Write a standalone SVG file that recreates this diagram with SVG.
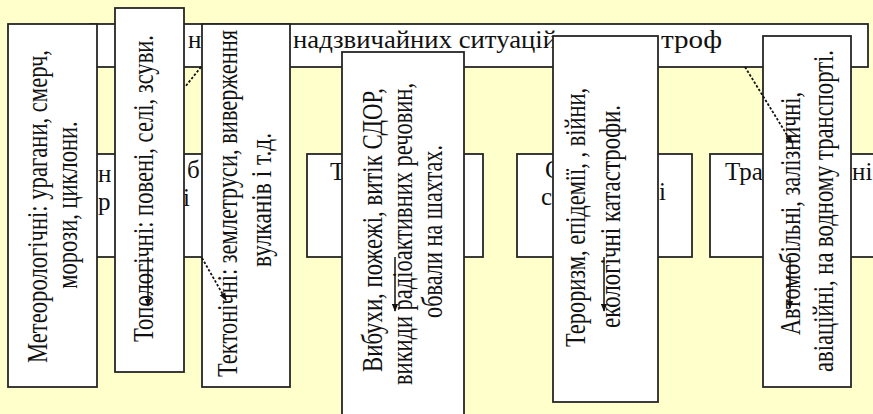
<svg xmlns="http://www.w3.org/2000/svg" width="873" height="414" viewBox="0 0 873 414">
<defs>
<style>
.bx{fill:#fff;stroke:#262626;stroke-width:1.8}
.t{font-family:"Liberation Serif","Times New Roman",serif;font-size:25px;fill:#111}
.v{font-family:"Liberation Serif","Times New Roman",serif;font-size:22.5px;fill:#111;text-anchor:middle}
.c{stroke:#111;stroke-width:1.5;fill:none}
.d{stroke:#111;stroke-width:1.8;fill:none;stroke-dasharray:2.5 1.8}
</style>
<marker id="ah" viewBox="0 0 10 8" refX="9" refY="4" markerWidth="8" markerHeight="7" markerUnits="userSpaceOnUse" orient="auto">
<path d="M0,0 L10,4 L0,8 z" fill="#111"/>
</marker>
</defs>
<rect width="873" height="414" fill="#FFFFCC"/>

<g id="title">
<rect class="bx" x="90" y="24" width="778" height="43"/>
<text class="t" x="188" y="48">н</text>
<text class="t" x="293" y="48" textLength="264" lengthAdjust="spacingAndGlyphs">надзвичайних ситуацій</text>
<text class="t" x="661" y="48" textLength="61" lengthAdjust="spacingAndGlyphs">троф</text>
</g>

<g id="natural">
<rect class="bx" x="60" y="154" width="190" height="103"/>
<text class="t" x="98" y="182">н</text>
<text class="t" x="98" y="210">р</text>
<text class="t" x="187" y="178">б</text>
<text class="t" x="183" y="206">і</text>
</g>
<g id="technogenic">
<rect class="bx" x="307" y="154" width="176" height="103"/>
<text class="t" x="330" y="180">Т</text>
</g>
<g id="social">
<rect class="bx" x="517" y="154" width="175" height="103"/>
<text class="t" x="545" y="178">С</text>
<text class="t" x="541" y="205">с</text>
<text class="t" x="659" y="200">і</text>
</g>
<g id="transport">
<rect class="bx" x="710" y="154" width="166" height="103"/>
<text class="t" x="725" y="180" textLength="38" lengthAdjust="spacingAndGlyphs">Тра</text>
<text class="t" x="852" y="180">ні</text>
</g>

<g id="meteo">
<rect class="bx" x="8" y="24" width="89" height="363"/>
<text class="v" transform="translate(47,206.5) rotate(-90) scale(1,1.35)" textLength="313" lengthAdjust="spacingAndGlyphs">Метеорологічні: урагани, смерч,</text>
<text class="v" transform="translate(77,205) rotate(-90) scale(1,1.35)">морози, циклони.</text>
</g>
<g id="topo">
<rect class="bx" x="115" y="8" width="69" height="364"/>
<text class="v" transform="translate(153,188.5) rotate(-90) scale(1,1.35)" textLength="307" lengthAdjust="spacingAndGlyphs">Топологічні: повені, селі, зсуви.</text>
</g>
<g id="tecton">
<rect class="bx" x="202" y="24" width="88" height="363"/>
<text class="v" transform="translate(237,203.5) rotate(-90) scale(1,1.35)" textLength="347" lengthAdjust="spacingAndGlyphs">Тектонічні: землетруси, виверження</text>
<text class="v" transform="translate(271,200) rotate(-90) scale(1,1.35)" textLength="134" lengthAdjust="spacingAndGlyphs">вулканів і т.д.</text>
</g>
<g id="explosions">
<rect class="bx" x="342" y="52" width="122" height="370"/>
<text class="v" transform="translate(382,230) rotate(-90) scale(1,1.35)" textLength="284" lengthAdjust="spacingAndGlyphs">Вибухи, пожежі, витік СДОР,</text>
<text class="v" transform="translate(412,234) rotate(-90) scale(1,1.35)" textLength="302" lengthAdjust="spacingAndGlyphs">викиди радіоактивних речовин,</text>
<text class="v" transform="translate(442,231.5) rotate(-90) scale(1,1.35)" textLength="173" lengthAdjust="spacingAndGlyphs">обвали на шахтах.</text>
</g>
<g id="terror">
<rect class="bx" x="553" y="36" width="105" height="366"/>
<text class="v" transform="translate(585,217.5) rotate(-90) scale(1,1.35)" textLength="259" lengthAdjust="spacingAndGlyphs">Тероризм, епідемії, , війни,</text>
<text class="v" transform="translate(620,216.5) rotate(-90) scale(1,1.35)" textLength="223" lengthAdjust="spacingAndGlyphs">екологічні катастрофи.</text>
</g>
<g id="auto">
<rect class="bx" x="763" y="36" width="88" height="351"/>
<text class="v" transform="translate(800,213.5) rotate(-90) scale(1,1.35)" textLength="243" lengthAdjust="spacingAndGlyphs">Автомобільні, залізничні,</text>
<text class="v" transform="translate(833,211) rotate(-90) scale(1,1.35)" textLength="322" lengthAdjust="spacingAndGlyphs">авіаційні, на водному транспорті.</text>
</g>

<g id="connectors">
<line class="d" x1="201" y1="67" x2="185" y2="87"/>
<line class="d" x1="202" y1="258" x2="226" y2="300" marker-end="url(#ah)"/>
<line class="c" x1="148" y1="257" x2="148" y2="306" marker-end="url(#ah)"/>
<line class="c" x1="395" y1="257" x2="395" y2="311" marker-end="url(#ah)"/>
<line class="c" x1="604" y1="257" x2="604" y2="311" marker-end="url(#ah)"/>
<line class="d" x1="745" y1="67" x2="792" y2="143" marker-end="url(#ah)"/>
<line class="c" x1="790" y1="257" x2="790" y2="308" marker-end="url(#ah)"/>
</g>
</svg>
